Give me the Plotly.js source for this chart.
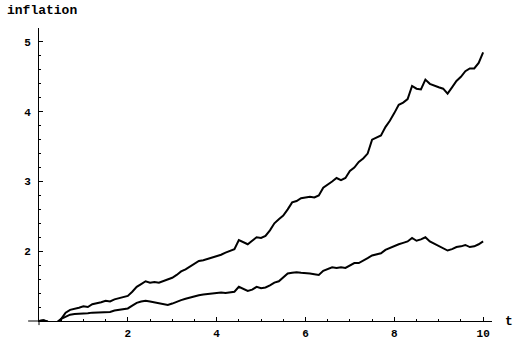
<!DOCTYPE html>
<html>
<head>
<meta charset="utf-8">
<script src="https://cdn.plot.ly/plotly-3.0.1.min.js"></script>
<style>html,body{margin:0;padding:0;background:#fff}#chart{width:514px;height:343px}</style>
</head>
<body>
<div id="chart"></div>
<script>
const tValues = [0.0,0.1,0.2,0.3,0.4,0.5,0.6,0.7,0.8,0.9,1.0,1.1,1.2,1.3,1.4,1.5,1.6,1.7,1.8,1.9,2.0,2.1,2.2,2.3,2.4,2.5,2.6,2.7,2.8,2.9,3.0,3.1,3.2,3.3,3.4,3.5,3.6,3.7,3.8,3.9,4.0,4.1,4.2,4.3,4.4,4.5,4.6,4.7,4.8,4.9,5.0,5.1,5.2,5.3,5.4,5.5,5.6,5.7,5.8,5.9,6.0,6.1,6.2,6.3,6.4,6.5,6.6,6.7,6.8,6.9,7.0,7.1,7.2,7.3,7.4,7.5,7.6,7.7,7.8,7.9,8.0,8.1,8.2,8.3,8.4,8.5,8.6,8.7,8.8,8.9,9.0,9.1,9.2,9.3,9.4,9.5,9.6,9.7,9.8,9.9,10.0];
const upperInflation = [1.00,1.01,0.99,0.98,0.97,1.03,1.12,1.16,1.17,1.19,1.21,1.20,1.24,1.25,1.27,1.29,1.28,1.31,1.33,1.34,1.36,1.42,1.49,1.53,1.57,1.55,1.56,1.55,1.57,1.60,1.62,1.66,1.71,1.74,1.78,1.82,1.86,1.87,1.89,1.90,1.93,1.95,1.98,2.01,2.03,2.16,2.13,2.10,2.15,2.20,2.19,2.22,2.30,2.40,2.46,2.51,2.60,2.70,2.72,2.76,2.77,2.78,2.77,2.80,2.91,2.95,3.00,3.05,3.02,3.05,3.15,3.20,3.28,3.33,3.40,3.60,3.63,3.66,3.78,3.87,3.98,4.10,4.13,4.18,4.37,4.33,4.32,4.46,4.40,4.37,4.35,4.33,4.26,4.35,4.44,4.50,4.58,4.62,4.62,4.70,4.85];
const lowerInflation = [1.00,1.01,0.99,0.98,0.98,1.03,1.06,1.09,1.10,1.10,1.11,1.11,1.12,1.12,1.13,1.12,1.13,1.15,1.16,1.16,1.18,1.22,1.26,1.28,1.29,1.28,1.27,1.26,1.24,1.23,1.25,1.28,1.30,1.32,1.34,1.36,1.37,1.38,1.39,1.39,1.40,1.41,1.40,1.41,1.42,1.49,1.46,1.43,1.45,1.49,1.47,1.48,1.51,1.55,1.57,1.63,1.68,1.69,1.70,1.69,1.69,1.68,1.67,1.66,1.72,1.75,1.77,1.76,1.77,1.76,1.80,1.83,1.83,1.86,1.90,1.94,1.95,1.97,2.02,2.05,2.07,2.10,2.12,2.14,2.19,2.15,2.17,2.20,2.14,2.11,2.08,2.04,2.01,2.03,2.06,2.07,2.09,2.06,2.07,2.10,2.14];
const xTickVals = [2,4,6,8,10];
const xTickText = ["2","4","6","8","10"];
const yTickVals = [2,3,4,5];
const yTickText = ["2","3","4","5"];

const monoFamily = "Liberation Mono";
const tickFont = {family: monoFamily, size: 11, color: "#000", weight: "bold"};
const labelFont = {family: monoFamily, size: 13, color: "#000", weight: "bold"};
const lineStyle = {color: "#000", width: 2};

const traces = [
  {x: tValues, y: upperInflation, type: "scatter", mode: "lines", line: lineStyle, hoverinfo: "skip"},
  {x: tValues, y: lowerInflation, type: "scatter", mode: "lines", line: lineStyle, hoverinfo: "skip"}
];

const layout = {
  width: 514, height: 343,
  margin: {l: 39, r: 22, t: 28, b: 22, pad: 0},
  paper_bgcolor: "#fff", plot_bgcolor: "#fff",
  showlegend: false,
  xaxis: {
    range: [0, 10.2], showgrid: false, zeroline: false,
    showline: true, linecolor: "#000", linewidth: 1,
    ticks: "inside", ticklen: 4, tickcolor: "#000", tickwidth: 1,
    tickvals: xTickVals, ticktext: xTickText, tickfont: tickFont,
    ticklabelstandoff: 2,
    minor: {tickvals: [0.5,1,1.5,2.5,3,3.5,4.5,5,5.5,6.5,7,7.5,8.5,9,9.5], ticks: "inside", ticklen: 2, tickcolor: "#000"}
  },
  yaxis: {
    range: [1, 5.2], showgrid: false, zeroline: false,
    showline: true, linecolor: "#000", linewidth: 1,
    ticks: "inside", ticklen: 4, tickcolor: "#000", tickwidth: 1,
    tickvals: yTickVals, ticktext: yTickText, tickfont: tickFont,
    ticklabelstandoff: 5,
    minor: {dtick: 0.2, ticks: "inside", ticklen: 2, tickcolor: "#000"}
  },
  shapes: [
    {type: "line", xref: "paper", yref: "paper", x0: -0.024, x1: 0, y0: 0, y1: 0, line: {color: "#000", width: 1}},
    {type: "line", xref: "paper", yref: "paper", x0: 0, x1: 0, y0: -0.014, y1: 0, line: {color: "#000", width: 1}}
  ],
  annotations: [
    {text: "inflation", xref: "paper", yref: "paper", x: -0.075, y: 1.027, xanchor: "left", yanchor: "bottom", showarrow: false, font: labelFont},
    {text: "t", xref: "paper", yref: "paper", x: 1.024, y: 0, xanchor: "left", yanchor: "middle", showarrow: false, font: labelFont}
  ]
};

Plotly.newPlot("chart", traces, layout, {staticPlot: true, displayModeBar: false});
</script>
</body>
</html>
